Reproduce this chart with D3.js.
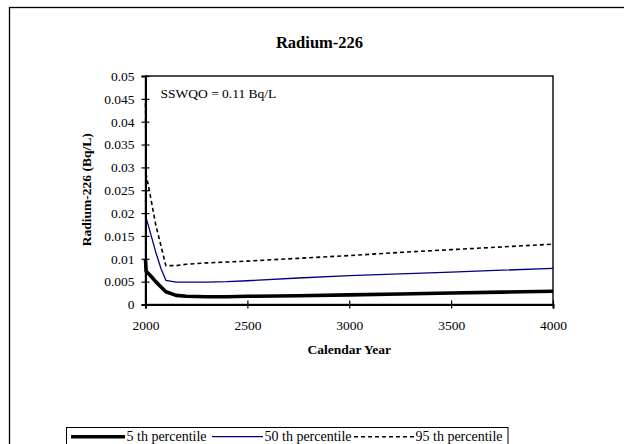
<!DOCTYPE html>
<html>
<head>
<meta charset="utf-8">
<script src="https://cdn.jsdelivr.net/npm/d3@7"></script>
<style>
  html, body { margin: 0; padding: 0; background: #fff; }
  svg { display: block; font-family: "Liberation Serif", "Times New Roman", serif; }
</style>
</head>
<body>
<svg id="chart" width="624" height="444"></svg>
<script>
// Calendar years at which the percentiles are reported
const years = [2000, 2003, 2025, 2050, 2075, 2100, 2150, 2200, 2300, 2400, 2500, 2750, 3000, 3250, 3500, 3750, 4000];

// Radium-226 concentration (Bq/L) for each percentile
const p5  = [0.0098, 0.0073, 0.0063, 0.0050, 0.0039, 0.0028, 0.0020, 0.0018, 0.0017, 0.0017, 0.0018, 0.0019, 0.0021, 0.0023, 0.0025, 0.0027, 0.0029];
const p50 = [0.0230, 0.0190, 0.0155, 0.0115, 0.0080, 0.0053, 0.0049, 0.0049, 0.0049, 0.0050, 0.0052, 0.0058, 0.0063, 0.0067, 0.0071, 0.0075, 0.0079];
const p95 = [0.0440, 0.0285, 0.0235, 0.0175, 0.0130, 0.0085, 0.0085, 0.0088, 0.0091, 0.0093, 0.0095, 0.0101, 0.0107, 0.0114, 0.0120, 0.0126, 0.0132];

const seriesNames = ["5 th percentile", "50 th percentile", "95 th percentile"];
const xTicks = [2000, 2500, 3000, 3500, 4000];
const yTicks = [0, 0.005, 0.01, 0.015, 0.02, 0.025, 0.03, 0.035, 0.04, 0.045, 0.05];
const yTickLabels = ["0", "0.005", "0.01", "0.015", "0.02", "0.025", "0.03", "0.035", "0.04", "0.045", "0.05"];
const chartTitle = "Radium-226";
const xTitle = "Calendar Year";
const yTitle = "Radium-226 (Bq/L)";
const note = "SSWQO = 0.11 Bq/L";

const svg = d3.select("#chart");

// outer chart frame (runs past the right and bottom edges)
svg.append("rect")
  .attr("x", 9.5).attr("y", 7.5).attr("width", 700).attr("height", 500)
  .attr("fill", "none").attr("stroke", "#000").attr("stroke-width", 1.3);

const plot = { left: 145.5, right: 553, top: 76, bottom: 304.5 };

const x = d3.scaleLinear().domain([2000, 4000]).range([plot.left, plot.right]);
const y = d3.scaleLinear().domain([0, 0.05]).range([plot.bottom, plot.top]);

// plot area border
svg.append("rect")
  .attr("x", plot.left).attr("y", plot.top)
  .attr("width", plot.right - plot.left).attr("height", plot.bottom - plot.top)
  .attr("fill", "#fff").attr("stroke", "#000").attr("stroke-width", 1.4);

// series lines
const styles = [
  { data: p5,  color: "#000",    width: 3.6, dash: null },
  { data: p50, color: "#000080", width: 1.3, dash: null },
  { data: p95, color: "#000",    width: 1.6, dash: "4,3" }
];
const line = d3.line().x((d, i) => x(years[i])).y(d => y(d));
styles.forEach(s => {
  svg.append("path")
    .datum(s.data)
    .attr("d", line)
    .attr("fill", "none")
    .attr("stroke", s.color)
    .attr("stroke-width", s.width)
    .attr("stroke-linejoin", "round")
    .attr("stroke-dasharray", s.dash);
});

// axes with ticks crossing the axis line
const yAxis = d3.axisLeft(y).tickValues(yTicks)
  .tickFormat((d, i) => yTickLabels[i]).tickSize(4).tickPadding(7);
const gy = svg.append("g").attr("transform", `translate(${plot.left},0)`).call(yAxis);
gy.select(".domain").attr("stroke-width", 2);
gy.selectAll(".tick line").attr("x1", -4).attr("x2", 4).attr("stroke-width", 1.2);
gy.selectAll("text").attr("font-size", 13.5).attr("font-family", "Liberation Serif").attr("fill", "#000");

const xAxis = d3.axisBottom(x).tickValues(xTicks).tickFormat(d3.format("d")).tickSize(4).tickPadding(12);
const gx = svg.append("g").attr("transform", `translate(0,${plot.bottom})`).call(xAxis);
gx.select(".domain").attr("stroke-width", 2);
gx.selectAll(".tick line").attr("y1", -4).attr("y2", 4).attr("stroke-width", 1.2);
gx.selectAll("text").attr("font-size", 13.5).attr("font-family", "Liberation Serif").attr("fill", "#000");
svg.selectAll(".domain").attr("stroke", "#000");

// titles
const cx = (plot.left + plot.right) / 2;
svg.append("text").attr("x", 319.5).attr("y", 47.5).attr("text-anchor", "middle")
  .attr("font-size", 16.5).attr("font-weight", "bold").text(chartTitle);
svg.append("text").attr("x", cx).attr("y", 354).attr("text-anchor", "middle")
  .attr("font-size", 13.5).attr("font-weight", "bold").text(xTitle);
svg.append("text")
  .attr("transform", "translate(91,189.7) rotate(-90)")
  .attr("text-anchor", "middle")
  .attr("font-size", 13.5).attr("font-weight", "bold").text(yTitle);

// guideline note
svg.append("text").attr("x", 160.5).attr("y", 98).attr("font-size", 13.5).text(note);

// legend
const legend = svg.append("g");
legend.append("rect")
  .attr("x", 66.5).attr("y", 427.5).attr("width", 441.5).attr("height", 30)
  .attr("fill", "#fff").attr("stroke", "#000").attr("stroke-width", 1);
const legendY = 436.7;
const entries = [
  { x0: 71,  x1: 125 },
  { x0: 212, x1: 263 },
  { x0: 354, x1: 414 }
];
entries.forEach((e, i) => {
  const s = styles[i];
  legend.append("line")
    .attr("x1", e.x0).attr("x2", e.x1).attr("y1", legendY).attr("y2", legendY)
    .attr("stroke", s.color).attr("stroke-width", s.width).attr("stroke-dasharray", s.dash);
  legend.append("text").attr("x", e.x1 + 1.5).attr("y", 441.3)
    .attr("font-size", 14).text(seriesNames[i]);
});
</script>
</body>
</html>
